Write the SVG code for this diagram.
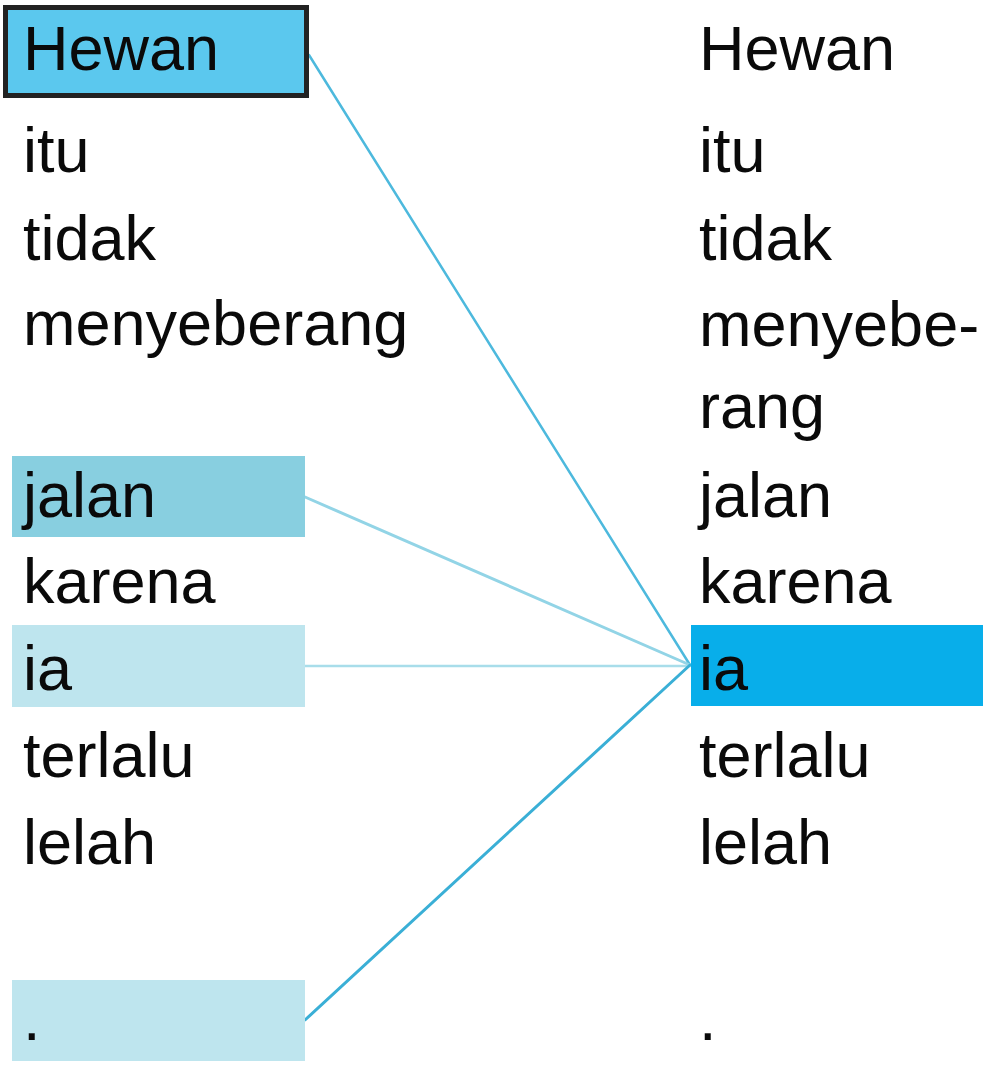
<svg xmlns="http://www.w3.org/2000/svg" width="992" height="1072" viewBox="0 0 992 1072">
<style>
  text { font-family: "Liberation Sans", Arial, sans-serif; font-size: 63px; fill: #0a0a0a; }
  .link { fill: none; stroke-linecap: round; }
</style>
<rect width="992" height="1072" fill="#ffffff"/>
<g id="connectors">
  <line class="link" x1="309" y1="55" x2="690" y2="665" stroke="#4DB9DD" stroke-width="2.5"/>
  <line class="link" x1="305" y1="497" x2="690" y2="665" stroke="#92D4E6" stroke-width="3"/>
  <line class="link" x1="305" y1="666" x2="690" y2="666" stroke="#A8DDEA" stroke-width="2.5"/>
  <line class="link" x1="305" y1="1020" x2="690" y2="665" stroke="#3AAFD6" stroke-width="3"/>
</g>
<g id="left-column">
  <g id="src-hewan">
    <rect x="5.5" y="7.5" width="301" height="88" fill="#5BC8EE" stroke="#222222" stroke-width="5"/>
    <text x="23" y="70">Hewan</text>
  </g>
  <g id="src-itu"><text x="23" y="172">itu</text></g>
  <g id="src-tidak"><text x="23" y="260">tidak</text></g>
  <g id="src-menyeberang"><text x="23" y="345">menyeberang</text></g>
  <g id="src-jalan">
    <rect x="12" y="456" width="293" height="81" fill="#88CFE0"/>
    <text x="23" y="517">jalan</text>
  </g>
  <g id="src-karena"><text x="23" y="603">karena</text></g>
  <g id="src-ia">
    <rect x="12" y="625" width="293" height="82" fill="#BEE5EE"/>
    <text x="23" y="690">ia</text>
  </g>
  <g id="src-terlalu"><text x="23" y="777">terlalu</text></g>
  <g id="src-lelah"><text x="23" y="864">lelah</text></g>
  <g id="src-dot">
    <rect x="12" y="980" width="293" height="81" fill="#BEE5EE"/>
    <text x="23" y="1040">.</text>
  </g>
</g>
<g id="right-column">
  <g id="tgt-hewan"><text x="699" y="70">Hewan</text></g>
  <g id="tgt-itu"><text x="699" y="172">itu</text></g>
  <g id="tgt-tidak"><text x="699" y="260">tidak</text></g>
  <g id="tgt-menyebe"><text x="699" y="346">menyebe-</text></g>
  <g id="tgt-rang"><text x="699" y="428">rang</text></g>
  <g id="tgt-jalan"><text x="699" y="517">jalan</text></g>
  <g id="tgt-karena"><text x="699" y="603">karena</text></g>
  <g id="tgt-ia">
    <rect x="691" y="625" width="292" height="81" fill="#08AEEA"/>
    <text x="699" y="690">ia</text>
  </g>
  <g id="tgt-terlalu"><text x="699" y="777">terlalu</text></g>
  <g id="tgt-lelah"><text x="699" y="864">lelah</text></g>
  <g id="tgt-dot"><text x="699" y="1040">.</text></g>
</g>
</svg>
